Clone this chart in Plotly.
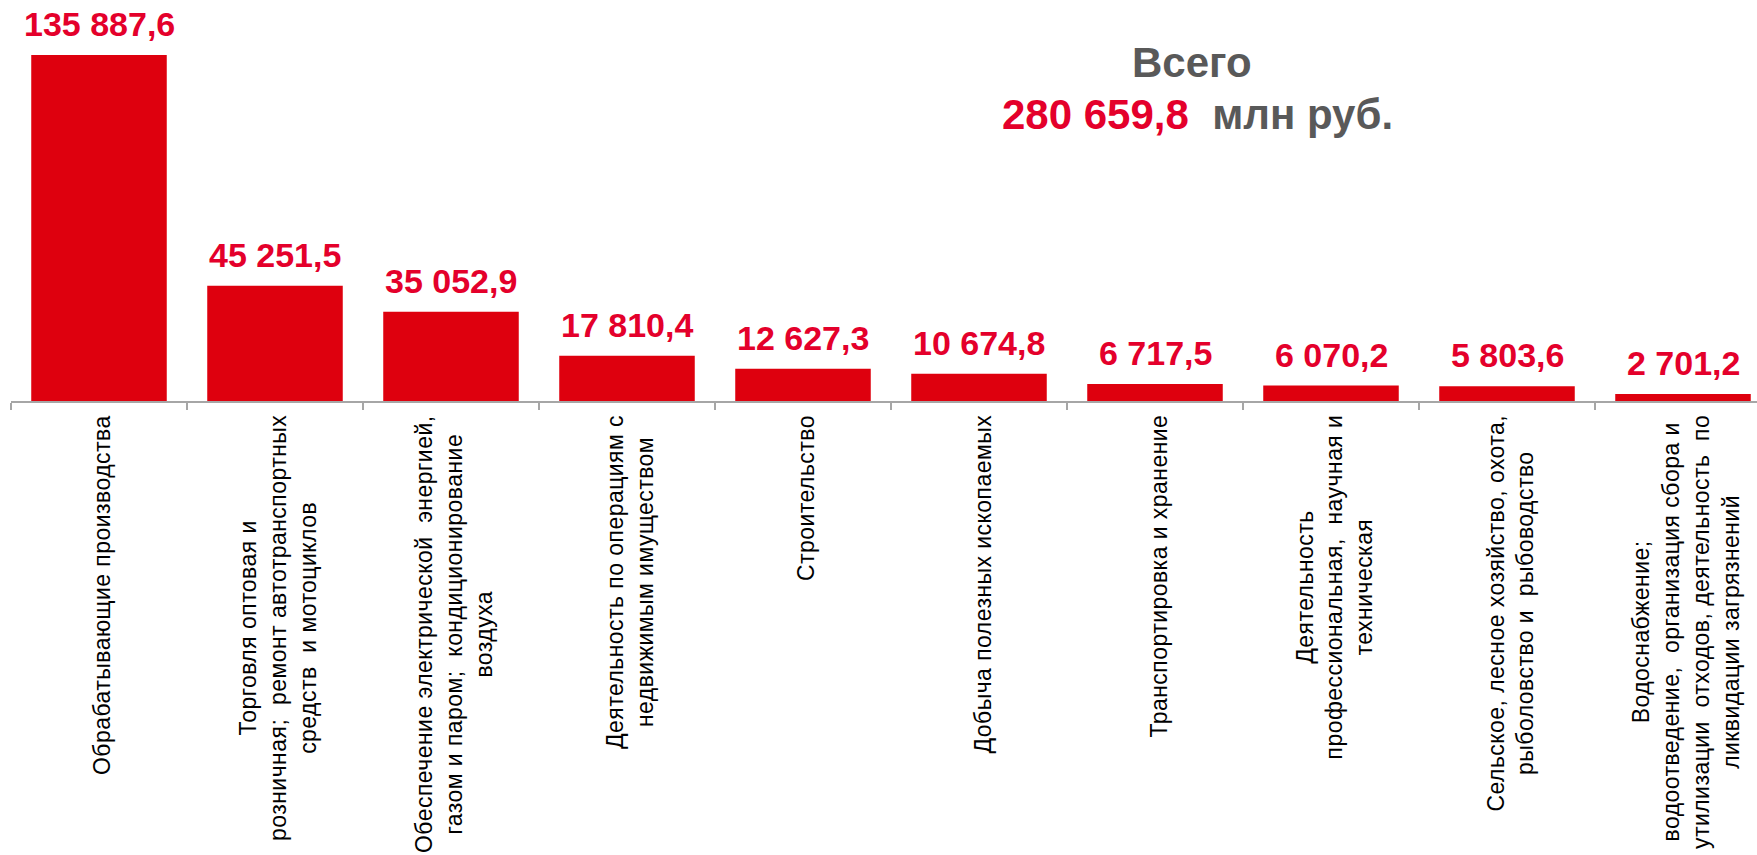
import plotly.graph_objects as go

categories = [
    "Обрабатывающие производства",
    "Торговля оптовая и<br>розничная;  ремонт автотранспортных<br>средств  и мотоциклов",
    "Обеспечение электрической  энергией,<br>газом и паром;  кондиционирование<br>воздуха",
    "Деятельность по операциям с<br>недвижимым имуществом",
    "Строительство",
    "Добыча полезных ископаемых",
    "Транспортировка и хранение",
    "Деятельность<br>профессиональная,  научная и<br>техническая",
    "Сельское, лесное хозяйство, охота,<br>рыболовство и  рыбоводство",
    "Водоснабжение;<br>водоотведение,  организация сбора и<br>утилизации  отходов, деятельность  по<br>ликвидации загрязнений",
]
values = [135887.6, 45251.5, 35052.9, 17810.4, 12627.3, 10674.8, 6717.5, 6070.2, 5803.6, 2701.2]
value_labels = ["135 887,6", "45 251,5", "35 052,9", "17 810,4", "12 627,3",
                "10 674,8", "6 717,5", "6 070,2", "5 803,6", "2 701,2"]
total_label = "280 659,8"

FONT = "Liberation Sans, Arial, sans-serif"
RED = "#E4002B"
BAR = "#DE000E"
GRAY = "#595959"

idx = list(range(len(categories)))

fig = go.Figure()
fig.add_trace(go.Bar(
    x=idx, y=values, marker=dict(color=BAR, line=dict(width=0)),
    width=0.77, hoverinfo="skip", showlegend=False,
))

annotations = []
for i, (v, t) in enumerate(zip(values, value_labels)):
    annotations.append(dict(
        x=i, y=v, xref="x", yref="y", text=t, showarrow=False,
        xanchor="center", yanchor="bottom", yshift=10,
        font=dict(family=FONT, size=34, color=RED, weight="bold"),
    ))


def spaced(label):
    return "<br>".join(
        f"<span style='letter-spacing:0.45px'>{line}</span>" for line in label.split("<br>")
    )


for i, c in enumerate(categories):
    annotations.append(dict(
        x=i, y=0, xref="x", yref="y", text=spaced(c), showarrow=False,
        textangle=-90, xanchor="center", yanchor="top", yshift=-12, xshift=3,
        align="center",
        font=dict(family=FONT, size=23, color="#000000"),
    ))

annotations.append(dict(
    x=(1192 - 11) / 1746, y=1 - 63 / 401, xref="paper", yref="paper",
    text="Всего", showarrow=False, xanchor="center", yanchor="middle",
    font=dict(family=FONT, size=42, color=GRAY, weight="bold"),
))
annotations.append(dict(
    x=(1197 - 11) / 1746, y=1 - 114 / 401, xref="paper", yref="paper",
    text=f"<span style='color:{RED}'>{total_label}</span>  млн руб.",
    showarrow=False, xanchor="center", yanchor="middle",
    font=dict(family=FONT, size=42, color=GRAY, weight="bold"),
))

fig.update_layout(
    width=1757, height=855,
    margin=dict(l=11, r=0, t=0, b=454),
    paper_bgcolor="white", plot_bgcolor="white",
    annotations=annotations,
    xaxis=dict(
        type="linear", range=[-0.5, -0.5 + 1746 / 176],
        showline=True, linecolor="#A6A6A6", linewidth=1.5,
        ticks="outside", ticklen=7, tickcolor="#A6A6A6", tickwidth=1.5,
        tickmode="array", tickvals=[i - 0.5 for i in range(11)],
        showticklabels=False, showgrid=False, zeroline=False, fixedrange=True,
    ),
    yaxis=dict(
        range=[0, 157500], visible=False, showgrid=False, zeroline=False, fixedrange=True,
    ),
)

fig.write_html(
    "out.html",
    config={"displayModeBar": False, "staticPlot": True},
    post_script="document.body.style.margin='0';document.body.style.overflow='hidden';",
)
